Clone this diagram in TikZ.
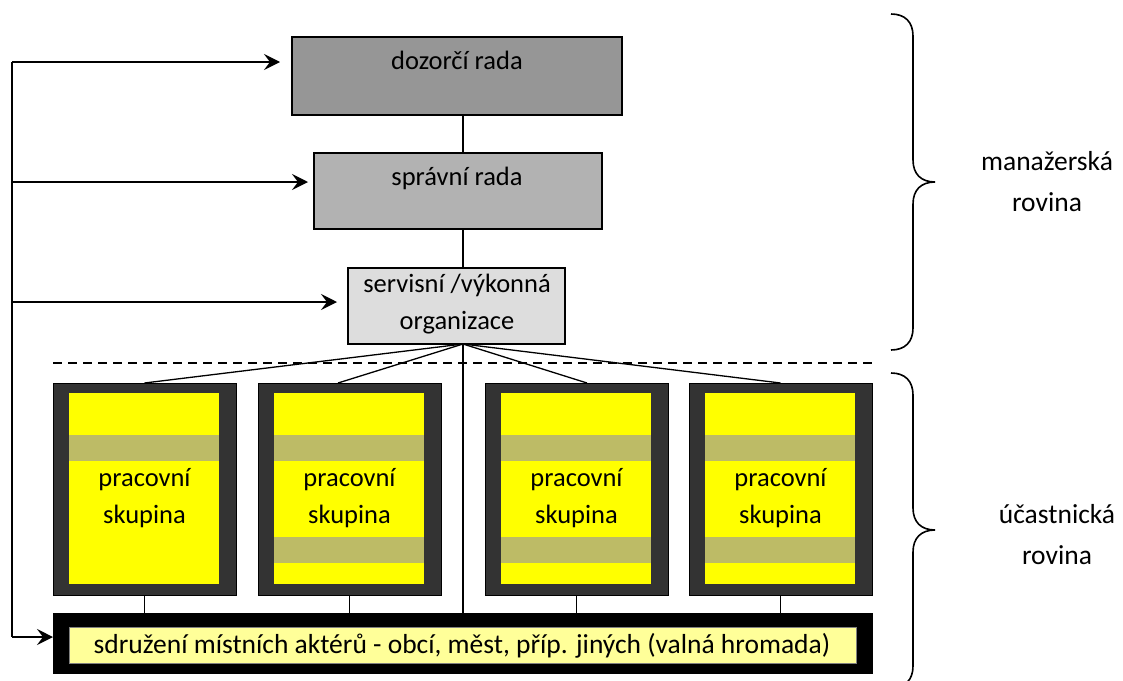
\documentclass[tikz,border=0pt]{standalone}
\usepackage{fontspec}
\setmainfont{Carlito}
\usetikzlibrary{arrows.meta,calc}
\definecolor{gA}{HTML}{969696}
\definecolor{gB}{HTML}{B2B2B2}
\definecolor{gC}{HTML}{DDDDDD}
\definecolor{dk}{HTML}{333333}
\definecolor{ylw}{HTML}{FFFF00}
\definecolor{olv}{HTML}{BDBB66}
\definecolor{lyl}{HTML}{FFFF99}
\begin{document}
\begin{tikzpicture}[x=1pt,y=-1pt,
  box/.style={draw=black, line width=1.3pt, inner sep=0pt, outer sep=0pt, anchor=north west},
  wgout/.style={draw=black, line width=0.8pt, fill=dk, inner sep=0pt, outer sep=0pt, anchor=north west, minimum width=183pt, minimum height=212pt},
  wgin/.style={fill=ylw, inner sep=0pt, outer sep=0pt, anchor=north west, minimum width=150pt, minimum height=191pt},
  band/.style={fill=olv, draw=none},
  txt/.style={font=\fontsize{26.5}{37}\selectfont, align=center, inner sep=0pt},
  sidetxt/.style={font=\fontsize{27.5}{41}\selectfont, align=center, inner sep=0pt},
  conn/.style={line width=1.3pt},
  thin/.style={line width=1pt},
  arr/.style={line width=1.5pt, -{Stealth[length=16pt,width=16pt,inset=6pt]}},
  brace/.style={line width=1.6pt}]
\useasboundingbox (0,0) rectangle (1123,680);

% management boxes
\node[box, fill=gA, minimum width=330pt, minimum height=78pt] (dr) at (292,37) {};
\node[box, fill=gB, minimum width=288pt, minimum height=76pt] (sr) at (314,153) {};
\node[box, fill=gC, minimum width=217pt, minimum height=76pt] (svc) at (348,268) {};
\node[txt, anchor=base] (drt) at (457,69) {dozorčí rada};
\node[txt, anchor=base] (srt) at (457,185) {správní rada};
\node[txt] (svct) at (457,304) {servisní /výkonná\\organizace};

% working groups
\foreach \i/\x in {1/53,2/258,3/485,4/689}{
  \node[wgout] (wg\i) at (\x,383) {};
  \node[wgin] (wgi\i) at (\x+16,393) {};
  \fill[band] (\x+16,435) rectangle (\x+166,461);
}
\foreach \x in {258,485,689}{
  \fill[band] (\x+16,537) rectangle (\x+166,563);
}
\foreach \i/\x in {1/144.5,2/349.5,3/576.5,4/780.5}{
  \node[txt] (wgt\i) at (\x,498.5) {pracovní\\skupina};
}

% association box
\node[box, fill=black, draw=black, line width=0.8pt, minimum width=819pt, minimum height=60pt] (sdr) at (53,613) {};
\node[box, fill=lyl, draw=gray, line width=0.6pt, minimum width=787pt, minimum height=36pt] (sdri) at (69,627) {};
\node[txt, font=\fontsize{27.5}{37}\selectfont, anchor=base] (sdrt) at (462,653) {sdružení místních aktérů - obcí, měst, příp. jiných (valná hromada)};

% vertical connectors
\coordinate (hub) at (463,344);
\draw[conn] (463,115) -- (463,153);
\draw[conn] (463,229) -- (463,268);
\draw[conn] (hub) -- (wg1.north);
\draw[conn] (hub) -- ([xshift=-11.5pt]wg2.north);
\draw[conn] (hub) -- ([xshift=10.5pt]wg3.north);
\draw[conn] (hub) -- (wg4.north);
\draw[conn] (hub) -- (463,613);
\foreach \i in {1,2,3,4}{
  \draw[thin] (wg\i.south) -- (wg\i.south |- sdr.north);
}

% dashed separator
\draw[conn, dash pattern=on 9pt off 6pt] (53,363) -- (872,363);

% left feedback spine and arrows
\coordinate (s1) at (12,62);
\coordinate (s2) at (12,182);
\coordinate (s3) at (12,302);
\coordinate (s4) at (12,637);
\coordinate (e1) at (280,62);
\coordinate (e2) at (308,182);
\coordinate (e3) at (337,302);
\draw[conn] (s1) -- (s4);
\draw[arr] (s1) -- (e1);
\draw[arr] (s2) -- (e2);
\draw[arr] (s3) -- (e3);
\draw[arr] (s4) -- (sdr.west |- s4);

% braces
\begin{scope}
\clip (0,0) rectangle (1123,680);
\draw[brace] (891,14) .. controls (905,14) and (913,22) .. (913,36) -- (913,160)
  .. controls (913,174) and (921,182) .. (935,182)
  .. controls (921,182) and (913,190) .. (913,204) -- (913,328)
  .. controls (913,342) and (905,350) .. (891,350);
\draw[brace] (891,373) .. controls (905,373) and (913,381) .. (913,395) -- (913,508)
  .. controls (913,522) and (921,530) .. (935,530)
  .. controls (921,530) and (913,538) .. (913,552) -- (913,666)
  .. controls (913,680) and (905,688) .. (891,688);
\end{scope}
\node[sidetxt] (mgr) at (1047,181.5) {manažerská\\rovina};
\node[sidetxt] (ucr) at (1057,534.5) {účastnická\\rovina};
\end{tikzpicture}
\end{document}
